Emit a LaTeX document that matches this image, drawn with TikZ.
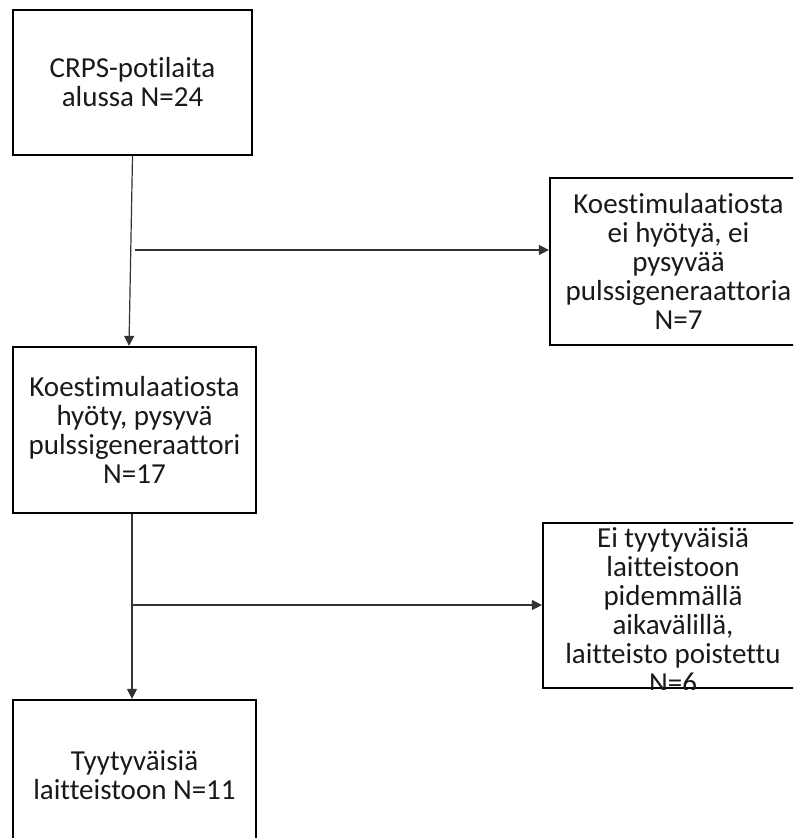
\documentclass[tikz,border=0pt]{standalone}
\usepackage{fontspec}
\setmainfont{Carlito}[Ligatures=CommonOff]
\usetikzlibrary{arrows.meta,calc}

\begin{document}
\begin{tikzpicture}[
    x=0.5pt, y=-0.5pt,
    txt/.style={align=center, text=black!90, font=\fontsize{14.5}{14.5}\selectfont},
    box/.style={txt, draw, line width=1.1pt, inner sep=2pt},
    flow/.style={draw=black!80, line width=0.6pt, -{Triangle[length=5pt,width=5pt]}},
  ]
  \useasboundingbox (0,0) rectangle (793,838);
  \clip (0,0) rectangle (793,838);
  % boxes
  \node[box, minimum width=119.5pt, minimum height=72.5pt] (crps) at (132.5,82.5)
    {CRPS-potilaita\\alussa N=24};
  \node[box, minimum width=128.5pt, minimum height=83.5pt] (noben) at (678.5,261.5)
    {Koestimulaatiosta\\ei hyötyä, ei\\pysyvää\\pulssigeneraattoria\\N=7};
  \node[box, minimum width=121.5pt, minimum height=83pt] (benefit) at (134.5,430)
    {Koestimulaatiosta\\hyöty, pysyvä\\pulssigeneraattori\\N=17};
  \node[box, minimum width=130pt, minimum height=82.5pt] (unhappy) at (673,605.5) {};
  \begin{scope}
    \clip (543,523) rectangle (810,689);
    \node[txt, anchor=north, inner sep=0pt] (unhappytxt) at (673,527)
      {Ei tyytyväisiä\\laitteistoon\\pidemmällä\\aikavälillä,\\laitteisto poistettu\\N=6};
  \end{scope}
  \node[box, minimum width=121.5pt, minimum height=75pt] (happy) at (134.5,775)
    {Tyytyväisiä\\laitteistoon N=11};
  % arrows
  \coordinate (split1) at (135,250);
  \coordinate (split2) at (132,605);
  \draw[flow] (crps.south) -- ($(benefit.north)+(-5.5,0)$);
  \draw[flow] (split1) -- (split1 -| noben.west);
  \draw[flow] (benefit.south -| split2) -- (happy.north -| split2);
  \draw[flow] (split2) -- (split2 -| unhappy.west);
\end{tikzpicture}
\end{document}
